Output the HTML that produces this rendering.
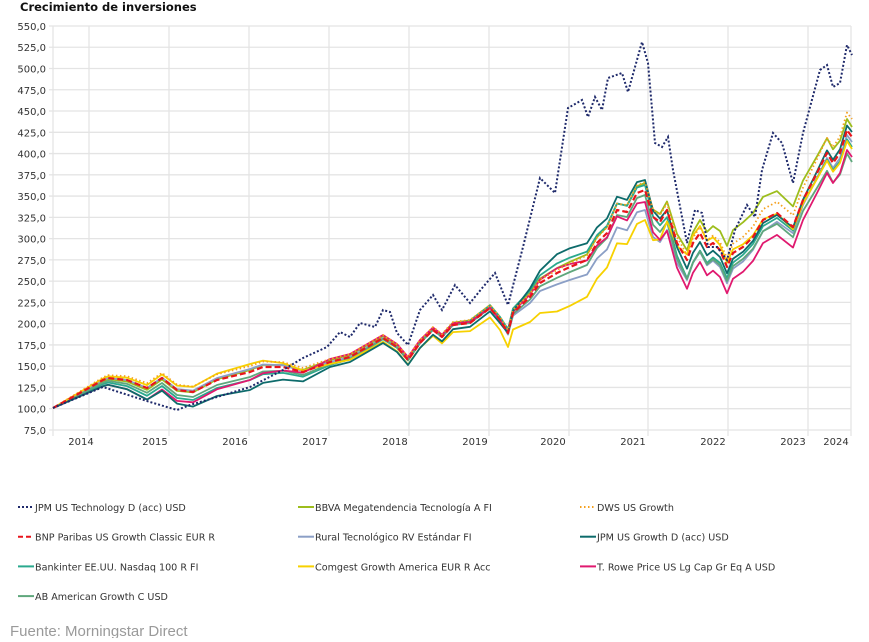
<!DOCTYPE html><html><head><meta charset="utf-8"><style>
body{margin:0;background:#fff;width:869px;height:638px;overflow:hidden;font-family:Verdana,"DejaVu Sans",sans-serif}
</style></head><body>
<svg id="s" width="869" height="638" xmlns="http://www.w3.org/2000/svg" font-family="Verdana, DejaVu Sans, sans-serif">
<text x="20" y="11" font-size="11.5" font-weight="bold" fill="#111">Crecimiento de inversiones</text>
<g id="grid"></g><g id="series"></g><g id="leg"></g>
<text x="10" y="636" font-size="15" fill="#9a9a9a" font-family="Liberation Sans, sans-serif">Fuente: Morningstar Direct</text>
</svg>
<script>
const NS="http://www.w3.org/2000/svg";
function el(p,t,a,txt){const e=document.createElementNS(NS,t);for(const k in a)e.setAttribute(k,a[k]);if(txt)e.textContent=txt;p.appendChild(e);return e;}
const g=document.getElementById('grid');
const Y=v=>408.7-(v-100)*0.8505;
for(let v=75;v<=550;v+=25){const y=Y(v);el(g,'line',{x1:49,x2:851,y1:y,y2:y,stroke:'#e4e4e4','stroke-width':1.3});
el(g,'text',{x:46,y:y+4,'font-size':10,'text-anchor':'end',fill:'#333'},v.toFixed(1).replace('.',','));}
[53,89,169,249,329,409,489,569,648,728,808,851].forEach(x=>el(g,'line',{x1:x,x2:x,y1:26,y2:436,stroke:'#e4e4e4','stroke-width':1.3}));
[[81,2014],[155,2015],[235,2016],[315,2017],[395,2018],[475,2019],[553,2020],[633,2021],[713,2022],[793,2023],[836,2024]].forEach(a=>el(g,'text',{x:a[0],y:445,'font-size':10,'text-anchor':'middle',fill:'#333'},a[1]));
function interp(pts,x){for(let i=0;i<pts.length-1;i++){if(x>=pts[i][0]&&x<=pts[i+1][0]){const t=(x-pts[i][0])/(pts[i+1][0]-pts[i][0]||1);return pts[i][1]+t*(pts[i+1][1]-pts[i][1]);}}return pts[pts.length-1][1];}
const red=[[53,408],[103,380],[108,378],[127,380],[147,388],[162,378],[177,390],[193,392],[217,380],[250,372],[263,367],[283,367],[303,372],[330,362],[350,357],[383,338],[397,347],[408,360],[420,343],[433,330],[442,337],[453,325],[470,323],[490,308],[500,320],[508,333],[513,313],[530,297],[540,283],[557,273],[570,267],[587,260],[597,243],[607,233],[617,210],[627,212],[637,193],[645,190],[653,217],[660,222],[667,210],[677,243],[687,260],[693,243],[700,233],[707,247],[713,243],[720,250],[727,267],[733,253],[743,247],[753,237],[763,220],[777,213],[793,227],[803,200],[817,173],[827,153],[833,163],[840,153],[847,130],[852,137]];
const tech=[[53,408],[103,387],[150,402],[177,410],[190,405],[217,397],[250,387],[283,370],[303,358],[327,347],[340,332],[350,337],[360,323],[375,327],[383,310],[390,312],[397,333],[408,345],[420,310],[433,295],[442,310],[455,285],[470,303],[483,287],[495,273],[508,305],[523,247],[540,178],[555,193],[568,108],[582,100],[588,117],[595,97],[602,110],[608,78],[622,73],[628,92],[642,42],[648,63],[655,143],[662,147],[668,137],[673,170],[687,243],[695,210],[702,213],[708,247],[717,247],[727,260],[735,230],[747,205],[755,217],[762,170],[773,133],[782,143],[793,183],[803,133],[820,70],[827,65],[833,87],[840,83],[847,45],[852,55]];
const K=[53,150,250,330,420,500,560,645,690,740,800,852];
const S=[
['BBVA','#9dbd1c',[0,2,-2,-2,-2,-3,-5,-7,-10,-25,-20,-10],''],
['Rural','#8b9fc6',[0,0,-3,0,0,0,12,20,20,15,5,5],''],
['Bank','#2aa98e',[0,8,8,3,0,-3,-10,-5,20,8,3,10],''],
['AB','#5fa77c',[0,5,5,2,0,0,5,5,20,12,10,25],''],
['Comg','#f7d100',[0,-3,-8,2,5,10,40,30,-8,-3,3,12],''],
['TRowe','#e0196f',[0,12,8,-3,-3,0,-5,12,30,25,20,20],''],
['JPMG','#0d6b6b',[0,12,18,5,5,3,-20,-10,10,5,0,-5],''],
['DWS','#f5a01e',[0,-5,-6,-3,-3,-3,-3,-8,-5,-10,-12,-18],'1.5 2.5'],
['BNP','#e8141b',[0,0,0,0,0,0,0,0,0,0,0,0],'6 3']];
const sg=document.getElementById('series');
S.forEach(s=>{const ko=K.map((k,i)=>[k,s[2][i]]);
const pts=red.map(p=>[p[0],p[1]+interp(ko,p[0])]);
const d=pts.map((p,i)=>(i?'L':'M')+p[0]+' '+p[1].toFixed(1)).join('');
const a={d:d,fill:'none',stroke:s[1],'stroke-width':s[0]=='BNP'?2.2:1.8,'stroke-linejoin':'round'};if(s[3])a['stroke-dasharray']=s[3];el(sg,'path',a);});
el(sg,'path',{d:tech.map((p,i)=>(i?'L':'M')+p[0]+' '+p[1]).join(''),fill:'none',stroke:'#1f2a6b','stroke-width':2,'stroke-dasharray':'2 2'});
const L=[['JPM US Technology D (acc) USD','#1f2a6b','2 2'],['BBVA Megatendencia Tecnología A FI','#9dbd1c',''],['DWS US Growth','#f5a01e','1.5 2.5'],
['BNP Paribas US Growth Classic EUR R','#e8141b','5 3'],['Rural Tecnológico RV Estándar FI','#8b9fc6',''],['JPM US Growth D (acc) USD','#0d6b6b',''],
['Bankinter EE.UU. Nasdaq 100 R FI','#2aa98e',''],['Comgest Growth America EUR R Acc','#f7d100',''],['T. Rowe Price US Lg Cap Gr Eq A USD','#e0196f',''],
['AB American Growth C USD','#5fa77c','']];
const lg=document.getElementById('leg');
L.forEach((l,i)=>{const x=[18,298,580][i%3],y=507+Math.floor(i/3)*29.7;
const a={x1:x,x2:x+16,y1:y,y2:y,stroke:l[1],'stroke-width':2};if(l[2])a['stroke-dasharray']=l[2];el(lg,'line',a);
el(lg,'text',{x:x+17,y:y+4,'font-size':9.6,fill:'#333'},l[0]);});
</script></body></html>
